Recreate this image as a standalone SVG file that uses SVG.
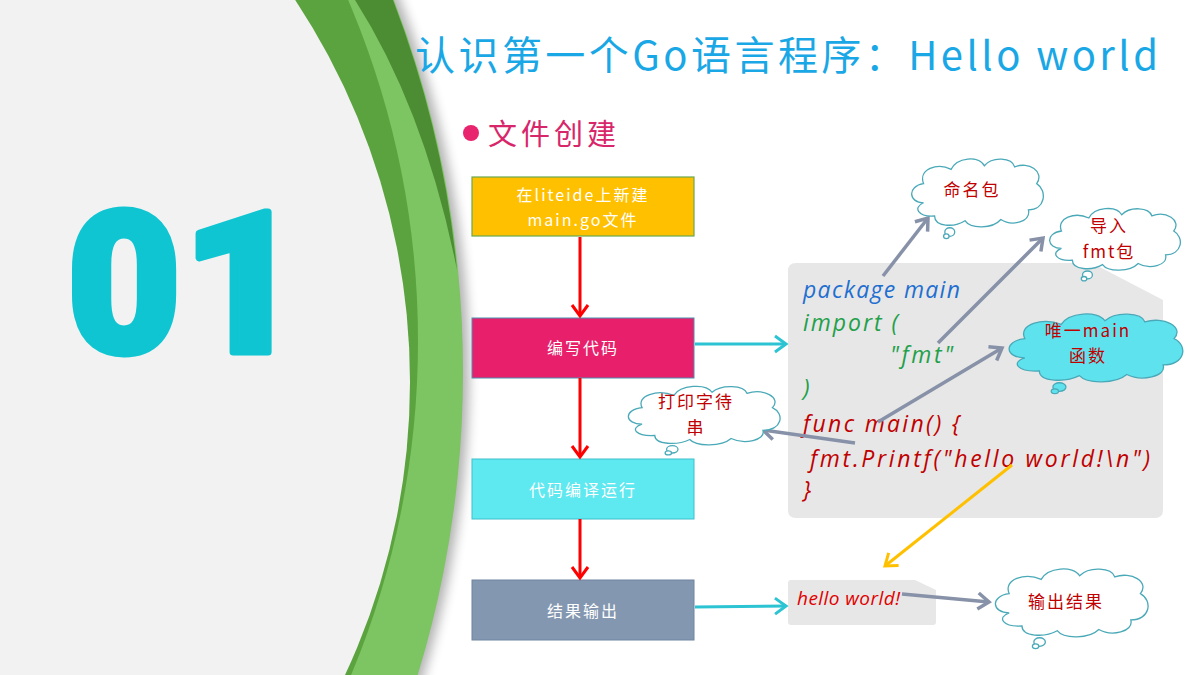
<svg xmlns="http://www.w3.org/2000/svg" width="1200" height="675" viewBox="0 0 1200 675">
<style>
.cjk{font-family:"Noto Sans CJK SC","Noto Sans",sans-serif}
.boxt{font-family:"Noto Sans CJK SC",sans-serif;font-size:16px;fill:#fff;text-anchor:middle;letter-spacing:2px}
.code{font-family:"Open Sans","Liberation Sans",sans-serif;font-style:italic;font-size:23px}
.out{font-size:19px}
.cl{font-family:"Noto Sans CJK SC",sans-serif;font-size:17px;fill:#c00000;text-anchor:middle;letter-spacing:2px}
.big{font-family:Roboto,"Liberation Sans",sans-serif;font-weight:900;font-size:196px;fill:#10c5d2;stroke:#10c5d2;stroke-width:7px;stroke-linejoin:round;text-anchor:middle}
.red{stroke:#ff0000;stroke-width:3;fill:none}
.cyan{stroke:#2cc3d3;stroke-width:3;fill:none}
.slate{stroke:#8791a8;stroke-width:3.5;fill:none}
.yel{stroke:#ffc000;stroke-width:3;fill:none}
.cloud{stroke:#4aa9b8;stroke-width:1.3}
</style>
<defs>
<filter id="sh" x="-10%" y="-10%" width="120%" height="120%"><feGaussianBlur stdDeviation="6"/></filter>
<marker id="mRed" markerUnits="userSpaceOnUse" markerWidth="22" markerHeight="22" viewBox="0 0 22 22" refX="19" refY="11" orient="auto"><path d="M8,3 L19,11 L8,19" stroke="#ff0000" stroke-width="3" fill="none"/></marker>
<marker id="mCyan" markerUnits="userSpaceOnUse" markerWidth="22" markerHeight="22" viewBox="0 0 22 22" refX="19" refY="11" orient="auto"><path d="M8,3 L19,11 L8,19" stroke="#2cc3d3" stroke-width="3" fill="none"/></marker>
<marker id="mSlate" markerUnits="userSpaceOnUse" markerWidth="22" markerHeight="22" viewBox="0 0 22 22" refX="19" refY="11" orient="auto"><path d="M8,3 L19,11 L8,19" stroke="#8791a8" stroke-width="3.5" fill="none"/></marker>
<marker id="mYel" markerUnits="userSpaceOnUse" markerWidth="22" markerHeight="22" viewBox="0 0 22 22" refX="19" refY="11" orient="auto"><path d="M8,3 L19,11 L8,19" stroke="#ffc000" stroke-width="3" fill="none"/></marker>
<symbol id="cloud" viewBox="0 0 100 72" preserveAspectRatio="none" overflow="visible">
<path vector-effect="non-scaling-stroke" d="M12,40 C1,40 0,26 12,24 C8,12 22,6 32,12 C36,2 52,0 56,9 C62,1 76,2 78,10 C88,5 100,14 94,24 C102,30 100,46 88,46 C90,56 76,60 68,54 C62,62 46,62 42,55 C34,61 20,60 20,51 C8,52 4,44 12,40 Z"/>
<ellipse vector-effect="non-scaling-stroke" cx="31" cy="64.5" rx="3.6" ry="3.6"/>
<ellipse vector-effect="non-scaling-stroke" cx="28.5" cy="68" rx="2" ry="2"/>
</symbol>
</defs>
<rect width="1200" height="675" fill="#ffffff"/>
<g id="background">
<circle cx="-566" cy="372" r="1035" fill="#000" opacity="0.3" filter="url(#sh)"/>
<circle cx="-572" cy="372" r="1035" fill="#7dc462"/>
<path d="M355,0 Q425,110 457,270 A1035,1035 0 0 0 393,0 Z" fill="#4c8d33"/>
<circle cx="-449" cy="341" r="867" fill="#5ba33e"/>
<circle cx="-283" cy="382" r="693" fill="#f2f2f2"/>
<text class="big" x="0" y="352" transform="translate(124,0)">0</text>
<text class="big" x="0" y="352" transform="translate(243,0) scale(1.07,1)">1</text>
</g>
<g id="title">
<text class="cjk" x="415" y="70" textLength="743" font-size="40" fill="#1aa7e6">认识第一个Go语言程序：Hello world</text>
<circle cx="471" cy="133" r="8" fill="#e8246e"/>
<text class="cjk" x="488" y="145" font-size="29" fill="#d8266a" letter-spacing="4">文件创建</text>
</g>
<g id="node-create">
<rect x="472" y="177" width="222" height="59" fill="#ffc000" stroke="#6aa84f" stroke-width="1.2"/>
<text class="boxt" x="583" y="201">在liteide上新建</text>
<text class="boxt" x="583" y="226">main.go文件</text>
</g>
<g id="node-write">
<rect x="472" y="318" width="222" height="60" fill="#e8206b" stroke="#4a8fb0" stroke-width="1"/>
<text class="boxt" x="583" y="354">编写代码</text>
</g>
<g id="node-compile">
<rect x="472" y="459" width="222" height="60" fill="#5ee8f0" stroke="#3fc0cc" stroke-width="1"/>
<text class="boxt" x="583" y="496">代码编译运行</text>
</g>
<g id="node-output">
<rect x="472" y="580" width="222" height="60" fill="#8497b0" stroke="#6f84a0" stroke-width="1"/>
<text class="boxt" x="583" y="617">结果输出</text>
</g>
<g id="code-panel">
<path d="M796,263 H1092 L1163,300 V510 Q1163,518 1155,518 H796 Q788,518 788,510 V271 Q788,263 796,263 Z" fill="#e7e7e7"/>
<text class="code" x="803" y="298" textLength="157" fill="#1f6fd0">package main</text>
<text class="code" x="803" y="331" textLength="95" fill="#22a04a">import (</text>
<text class="code" x="890" y="363" textLength="63" fill="#22a04a">"fmt"</text>
<text class="code" x="803" y="396" fill="#22a04a">)</text>
<text class="code" x="803" y="432" textLength="157" fill="#c00000">func main() {</text>
<text class="code" x="810" y="467" textLength="340" fill="#c00000">fmt.Printf("hello world!\n")</text>
<text class="code" x="803" y="498" fill="#c00000">}</text>
</g>
<g id="output-panel">
<path d="M791,580 H915 L936,590 V622 Q936,625 933,625 H791 Q788,625 788,622 V583 Q788,580 791,580 Z" fill="#e7e7e7"/>
<text class="code out" x="797" y="605" textLength="103" fill="#e00000">hello world!</text>
</g>
<g id="connectors">
<line class="red" x1="580" y1="237" x2="580" y2="316" marker-end="url(#mRed)"/>
<line class="red" x1="580" y1="378" x2="580" y2="457" marker-end="url(#mRed)"/>
<line class="red" x1="580" y1="519" x2="580" y2="578" marker-end="url(#mRed)"/>
<line class="cyan" x1="695" y1="344" x2="786" y2="344" marker-end="url(#mCyan)"/>
<line class="cyan" x1="695" y1="607" x2="786" y2="606" marker-end="url(#mCyan)"/>
<line class="slate" x1="883" y1="276" x2="928" y2="218" marker-end="url(#mSlate)"/>
<line class="slate" x1="938" y1="343" x2="1043" y2="238" marker-end="url(#mSlate)"/>
<line class="slate" x1="878" y1="422" x2="1002" y2="348" marker-end="url(#mSlate)"/>
<line class="slate" x1="855" y1="443" x2="763" y2="430" marker-end="url(#mSlate)"/>
<line class="slate" x1="902" y1="594" x2="989" y2="602" marker-end="url(#mSlate)"/>
<line class="yel" x1="1012" y1="465" x2="885" y2="566" marker-end="url(#mYel)"/>
</g>
<g id="cloud-package">
<use href="#cloud" class="cloud" x="907" y="155" width="138" height="86" fill="#fff"/>
<text class="cl" x="972" y="196">命名包</text>
</g>
<g id="cloud-import">
<use href="#cloud" class="cloud" x="1045" y="205" width="137" height="78" fill="#fff"/>
<text class="cl" x="1109" y="232">导入</text>
<text class="cl" x="1109" y="258">fmt包</text>
</g>
<g id="cloud-main">
<use href="#cloud" class="cloud" x="1003" y="310" width="182" height="86" fill="#5ee3ee"/>
<text class="cl" x="1088" y="337">唯一main</text>
<text class="cl" x="1088" y="362">函数</text>
</g>
<g id="cloud-print">
<use href="#cloud" class="cloud" x="623" y="383" width="159" height="74" fill="#fff"/>
<text class="cl" x="696" y="408">打印字待</text>
<text class="cl" x="696" y="434">串</text>
</g>
<g id="cloud-result">
<use href="#cloud" class="cloud" x="990" y="565" width="160" height="86" fill="#fff"/>
<text class="cl" x="1066" y="608">输出结果</text>
</g>
</svg>
